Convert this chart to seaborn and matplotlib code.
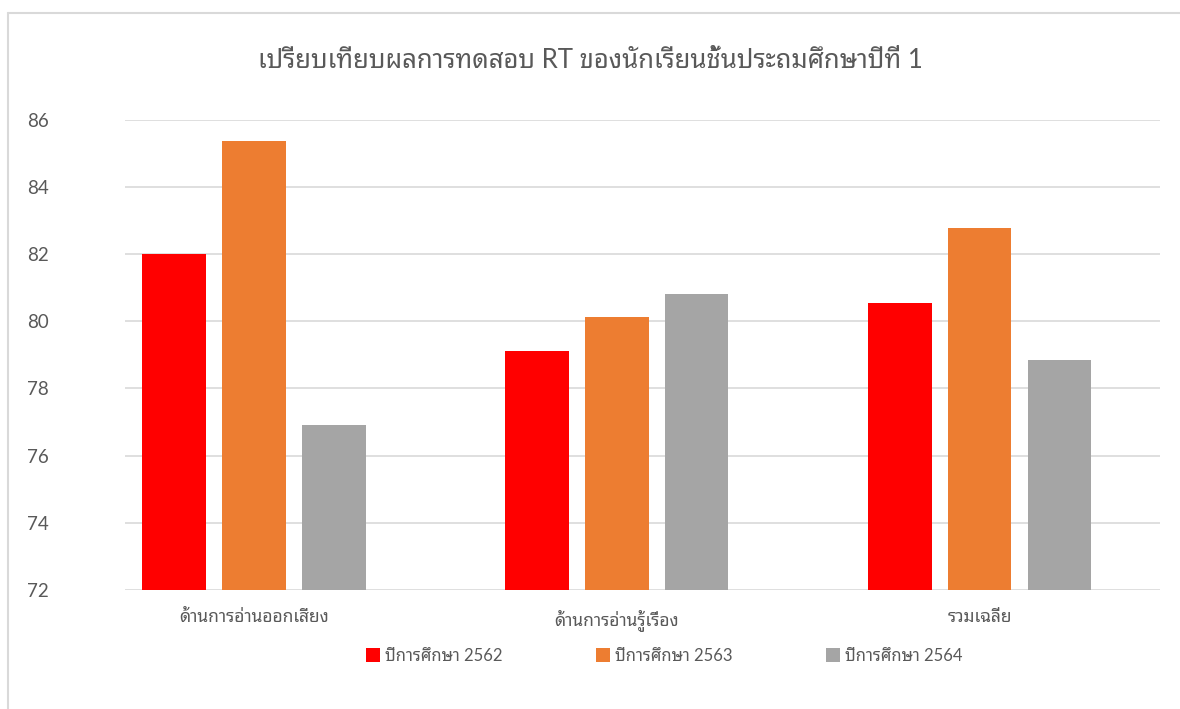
import matplotlib
matplotlib.use("Agg")
import matplotlib.pyplot as plt
from matplotlib.lines import Line2D
from matplotlib.patches import Patch
import pandas as pd
import seaborn as sns

# data
categories = ["ด้านการอ่านออกเสียง", "ด้านการอ่านรู้เรื่อง", "รวมเฉลี่ย"]
years = ["ปีการศึกษา 2562", "ปีการศึกษา 2563", "ปีการศึกษา 2564"]
scores_2562 = [82.0, 79.1, 80.55]
scores_2563 = [85.37, 80.12, 82.78]
scores_2564 = [76.92, 80.8, 78.86]
colors = ["#ff0000", "#ed7d31", "#a5a5a5"]

df = pd.DataFrame({
    "category": categories * 3,
    "year": [years[0]] * 3 + [years[1]] * 3 + [years[2]] * 3,
    "score": scores_2562 + scores_2563 + scores_2564,
})

sns.set_theme(style="white")
plt.rcParams["font.family"] = ["Lato", "Noto Sans Thai Looped", "DejaVu Sans"]

fig = plt.figure(figsize=(11.8, 7.09), dpi=100)
ax = fig.add_axes([0.106, 0.168, 0.877, 0.663])

sns.barplot(data=df, x="category", y="score", hue="year", palette=colors,
            width=0.661, ax=ax, legend=False, saturation=1)

# leave a white gap between bars like the original
for p in ax.patches:
    w = p.get_width()
    p.set_x(p.get_x() + w * 0.105)
    p.set_width(w * 0.79)
    p.set_edgecolor("none")

ax.set_ylim(72, 86)
ax.set_yticks(range(72, 87, 2))
ax.set_xlim(-0.355, 2.496)
ax.grid(axis="y", color="#d9d9d9", linewidth=1.2)
ax.set_axisbelow(True)
sns.despine(ax=ax, left=True, bottom=True)
ax.set_xlabel("")
ax.set_ylabel("")
ax.tick_params(axis="y", length=0, pad=55, labelsize=13.5, labelcolor="#595959")
ax.tick_params(axis="x", length=0, pad=14, labelsize=12.5, labelcolor="#595959")

fig.text(0.5, 0.915, "เปรียบเทียบผลการทดสอบ RT ของนักเรียนชั้นประถมศึกษาปีที่ 1",
         ha="center", va="center", fontsize=18.5, color="#595959")

handles = [Patch(facecolor=c, edgecolor="none") for c in colors]
fig.legend(handles, years, loc="center", bbox_to_anchor=(0.563, 0.075), ncol=3,
           frameon=False, fontsize=12, labelcolor="#595959", handlelength=0.85,
           handleheight=0.85, handletextpad=0.3, columnspacing=5.6)

# light chart-area border (top and left edges visible)
fig.add_artist(Line2D([0.0068, 1.0], [0.982, 0.982], color="#d9d9d9", linewidth=1.5,
                      transform=fig.transFigure))
fig.add_artist(Line2D([0.0068, 0.0068], [0.0, 0.982], color="#d9d9d9", linewidth=1.5,
                      transform=fig.transFigure))

fig.savefig("out.png", dpi=100)
